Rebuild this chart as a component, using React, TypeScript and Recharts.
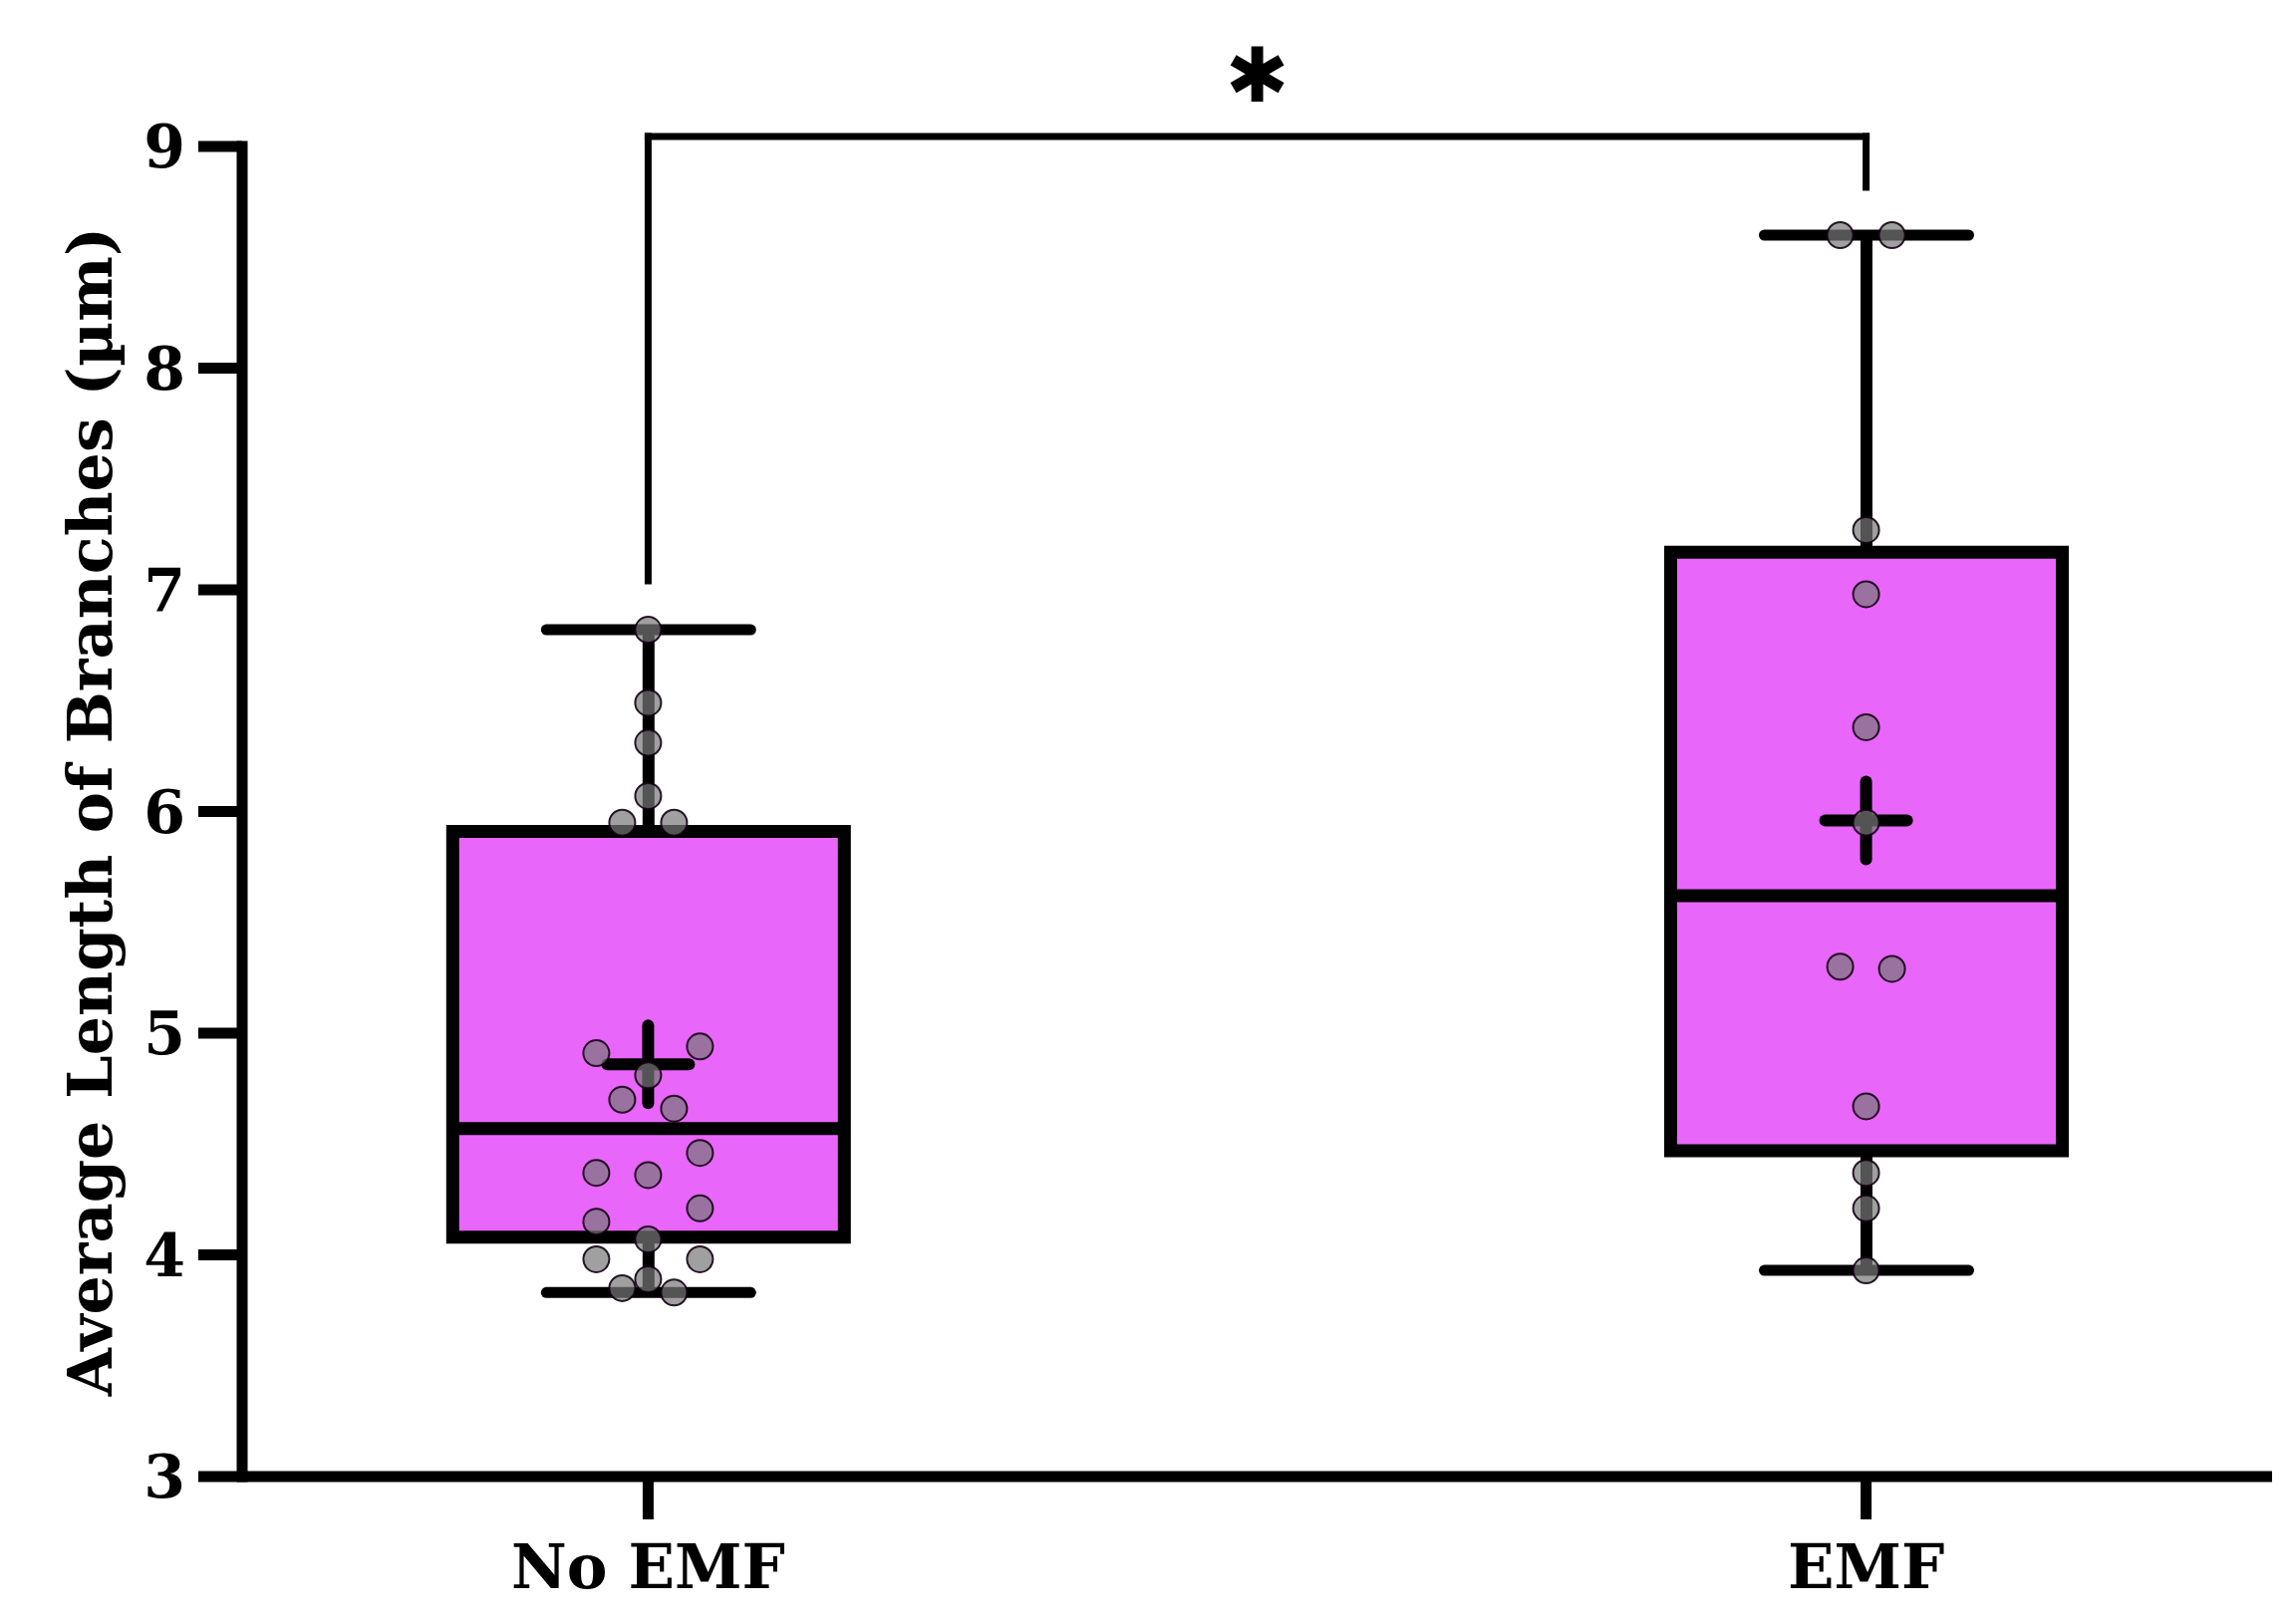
import React from "react";
import {
  Bar,
  ComposedChart,
  Label,
  ReferenceDot,
  ReferenceLine,
  Scatter,
  XAxis,
  YAxis,
} from "recharts";

// groups on the x axis
const groups = ["No EMF", "EMF"];
const groupX = [1, 2];

// individual measurements (µm)
const noEmfPoints = [
  6.82, 6.49, 6.31, 6.07, 5.95, 5.95, 4.94, 4.91, 4.81, 4.7, 4.66, 4.46, 4.37,
  4.36, 4.21, 4.15, 4.07, 3.98, 3.98, 3.89, 3.85, 3.83,
];
const emfPoints = [
  8.6, 8.6, 7.27, 6.98, 6.38, 5.95, 5.3, 5.29, 4.67, 4.37, 4.21, 3.93,
];

// box & whisker stats per group
const whiskerMin = [3.83, 3.93];
const quartile1 = [4.08, 4.47];
const medians = [4.57, 5.62];
const quartile3 = [5.91, 7.17];
const whiskerMax = [6.82, 8.6];
const means = [4.86, 5.96];

const yTicks = [3, 4, 5, 6, 7, 8, 9];
const yTitle = "Average Length of Branches (µm)";

// significance bracket: left foot, top, right foot
const bracketLeftFoot = 7.04;
const bracketTop = 9.045;
const bracketRightFoot = 8.816;
const starY = 9.32;
const starText = "✱";

const FONT = "'DejaVu Serif', serif";
const BOX_FILL = "#E966FA";
const SLOT = 26;

const rows = groups.map((name, i) => ({
  name,
  x: groupX[i],
  whisker: [whiskerMin[i], whiskerMax[i]],
  box: [quartile1[i], quartile3[i]],
  medianSpan: [quartile1[i], medians[i]],
}));

// row-based swarm: close values share a row (max 3) and spread sideways
function swarm(values: number[], x: number) {
  const sorted = [...values].sort((a, b) => b - a);
  const bins: number[][] = [];
  let cur: number[] = [];
  for (const v of sorted) {
    const prev = cur[cur.length - 1];
    if (cur.length && (cur.length >= 3 || prev - v >= 0.115 || cur[0] - v > 0.155)) {
      bins.push(cur);
      cur = [];
    }
    cur.push(v);
  }
  if (cur.length) bins.push(cur);
  const pattern: Record<number, number[]> = { 1: [0], 2: [-1, 1], 3: [2, -2, 0] };
  return bins.flatMap((b) => b.map((v, k) => ({ x, y: v, slot: pattern[b.length][k] })));
}

const pointData = [
  ...swarm(noEmfPoints, groupX[0]),
  ...swarm(emfPoints, groupX[1]),
];
const meanData = means.map((m, i) => ({ x: groupX[i], y: m }));

const WhiskerShape = (props: any) => {
  const { x, y, width, height } = props;
  const cx = x + width / 2;
  return (
    <g>
      <line x1={cx} x2={cx} y1={y} y2={y + height} stroke="#000" strokeWidth={12} />
      <line x1={x} x2={x + width} y1={y} y2={y} stroke="#000" strokeWidth={11} strokeLinecap="round" />
      <line x1={x} x2={x + width} y1={y + height} y2={y + height} stroke="#000" strokeWidth={11} strokeLinecap="round" />
    </g>
  );
};

const MedianShape = (props: any) => {
  const { x, y, width } = props;
  return <line x1={x} x2={x + width} y1={y} y2={y} stroke="#000" strokeWidth={13} />;
};

const MeanShape = (props: any) => {
  const { cx, cy } = props;
  return (
    <g stroke="#000" strokeWidth={12} strokeLinecap="round">
      <line x1={cx - 41} x2={cx + 41} y1={cy} y2={cy} />
      <line x1={cx} x2={cx} y1={cy - 39} y2={cy + 39} />
    </g>
  );
};

const DotShape = (props: any) => {
  const { cx, cy, payload } = props;
  const slot = payload?.slot ?? props.slot ?? 0;
  return (
    <circle
      cx={cx + slot * SLOT}
      cy={cy}
      r={13}
      fill="rgba(120,120,120,0.7)"
      stroke="rgba(20,0,20,0.9)"
      strokeWidth={2}
    />
  );
};

const YTitle = (props: any) => {
  const { viewBox } = props;
  const cx = viewBox.x + 90;
  const cy = viewBox.y + viewBox.height / 2;
  return (
    <text
      transform={`translate(${cx}, ${cy}) rotate(-90)`}
      textAnchor="middle"
      dominantBaseline="central"
      fontFamily={FONT}
      fontWeight={700}
      fontSize={62}
      fill="#000"
    >
      {yTitle}
    </text>
  );
};

const bracketLine = { stroke: "#000", strokeWidth: 7, strokeLinecap: "square" as const };

export default function App() {
  return (
    <div style={{ position: "absolute", left: 0, top: 0, background: "#fff" }}>
      <ComposedChart
        width={2302}
        height={1630}
        data={rows}
        margin={{ top: 147, right: 22, bottom: 0, left: 0 }}
      >
        <XAxis
          xAxisId={0}
          type="number"
          dataKey="x"
          domain={[2 / 3, 7 / 3]}
          ticks={groupX}
          interval={0}
          tickFormatter={(v: number) => groups[groupX.indexOf(v)] ?? ""}
          axisLine={{ stroke: "#000", strokeWidth: 11 }}
          tickLine={{ stroke: "#000", strokeWidth: 11 }}
          tickSize={43}
          tickMargin={26}
          tick={{ fill: "#000", fontSize: 61, fontWeight: 700, fontFamily: FONT }}
          height={148}
        />
        <XAxis xAxisId="whisker" type="number" dataKey="x" domain={[2 / 3, 7 / 3]} hide />
        <XAxis xAxisId="box" type="number" dataKey="x" domain={[2 / 3, 7 / 3]} hide />
        <XAxis xAxisId="median" type="number" dataKey="x" domain={[2 / 3, 7 / 3]} hide />
        <YAxis
          type="number"
          domain={[3, 9]}
          ticks={yTicks}
          interval={0}
          width={243}
          axisLine={{ stroke: "#000", strokeWidth: 11, strokeLinecap: "square" }}
          tickLine={{ stroke: "#000", strokeWidth: 11 }}
          tickSize={44}
          tickMargin={13}
          tick={{ fill: "#000", fontSize: 60, fontWeight: 700, fontFamily: FONT }}
        >
          <Label content={<YTitle />} />
        </YAxis>

        <Bar
          xAxisId="whisker"
          dataKey="whisker"
          barSize={205}
          shape={<WhiskerShape />}
          isAnimationActive={false}
        />
        <Bar
          xAxisId="box"
          dataKey="box"
          barSize={393}
          fill={BOX_FILL}
          stroke="#000"
          strokeWidth={13}
          isAnimationActive={false}
        />
        <Bar
          xAxisId="median"
          dataKey="medianSpan"
          barSize={393}
          shape={<MedianShape />}
          isAnimationActive={false}
        />
        <Scatter data={meanData} dataKey="y" shape={<MeanShape />} isAnimationActive={false} />
        <Scatter data={pointData} dataKey="y" shape={<DotShape />} isAnimationActive={false} />

        <ReferenceLine
          segment={[{ x: groupX[0], y: bracketLeftFoot }, { x: groupX[0], y: bracketTop }]}
          ifOverflow="visible"
          {...bracketLine}
        />
        <ReferenceLine
          segment={[{ x: groupX[0], y: bracketTop }, { x: groupX[1], y: bracketTop }]}
          ifOverflow="visible"
          {...bracketLine}
        />
        <ReferenceLine
          segment={[{ x: groupX[1], y: bracketTop }, { x: groupX[1], y: bracketRightFoot }]}
          ifOverflow="visible"
          {...bracketLine}
        />
        <ReferenceDot
          x={(groupX[0] + groupX[1]) / 2}
          y={starY}
          r={0}
          ifOverflow="visible"
          shape={(p: any) => (
            <text
              x={p.cx}
              y={p.cy}
              textAnchor="middle"
              dominantBaseline="central"
              fontFamily="'DejaVu Sans', sans-serif"
              fontWeight={700}
              fontSize={76}
              fill="#000"
            >
              {starText}
            </text>
          )}
        />
      </ComposedChart>
    </div>
  );
}
